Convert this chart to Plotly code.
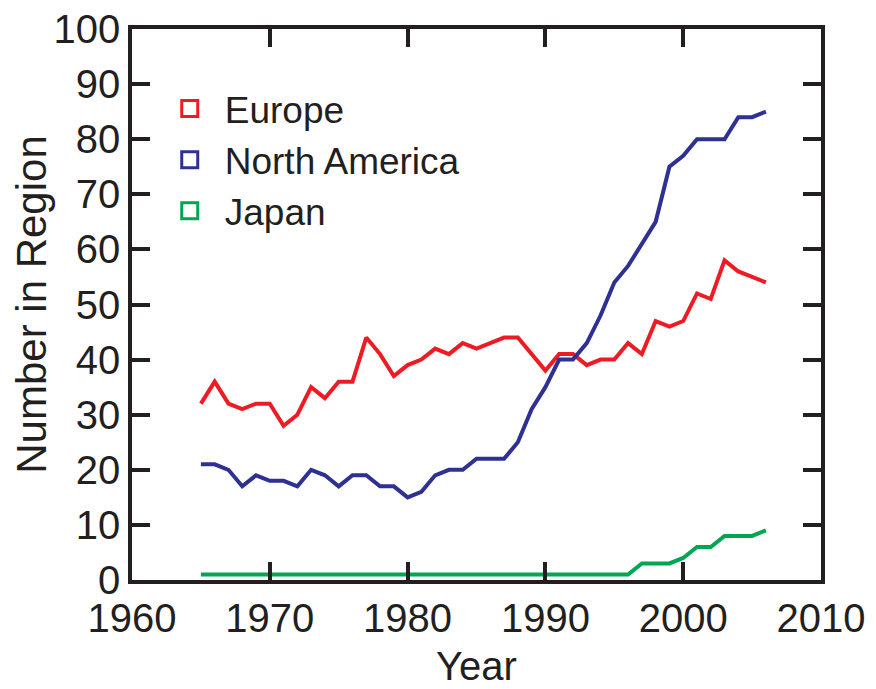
import plotly.graph_objects as go

# years and counts per region
years = list(range(1965, 2007))
europe = [32, 36, 32, 31, 32, 32, 28, 30, 35, 33, 36, 36, 44, 41, 37, 39, 40, 42, 41, 43,
          42, 43, 44, 44, 41, 38, 41, 41, 39, 40, 40, 43, 41, 47, 46, 47, 52, 51, 58, 56, 55, 54]
north_america = [21, 21, 20, 17, 19, 18, 18, 17, 20, 19, 17, 19, 19, 17, 17, 15, 16, 19, 20, 20,
                 22, 22, 22, 25, 31, 35, 40, 40, 43, 48, 54, 57, 61, 65, 75, 77, 80, 80, 80, 84, 84, 85]
japan = [1, 1, 1, 1, 1, 1, 1, 1, 1, 1, 1, 1, 1, 1, 1, 1, 1, 1, 1, 1,
         1, 1, 1, 1, 1, 1, 1, 1, 1, 1, 1, 1, 3, 3, 3, 4, 6, 6, 8, 8, 8, 9]

series = [("Europe", europe, "#ed1c24"),
          ("North America", north_america, "#2e3192"),
          ("Japan", japan, "#00a651")]

INK = "#231f20"
FONT = "Liberation Sans, Arial, sans-serif"
TICKFONT = dict(family=FONT, size=40, color=INK)

fig = go.Figure()
for name, vals, col in series:
    fig.add_trace(go.Scatter(x=years, y=vals, mode="lines", name=name, showlegend=False,
                             line=dict(color=col, width=4)))
# legend entries drawn as open squares
for name, vals, col in series:
    fig.add_trace(go.Scatter(x=[None], y=[None], mode="markers", name=name,
                             marker=dict(symbol="square-open", size=19, color=col,
                                         line=dict(color=col, width=3))))

axis_common = dict(showline=True, linecolor=INK, linewidth=3.5, mirror="ticks",
                   ticks="inside", ticklen=18, tickwidth=3.5, tickcolor=INK,
                   showgrid=False, zeroline=False, tickfont=TICKFONT, automargin=False,
                   ticklabeloverflow="allow")

fig.update_xaxes(range=[1960, 2010], dtick=10, tick0=1960,
                 title=dict(text="Year", font=dict(family=FONT, size=40, color=INK), standoff=14),
                 **axis_common)
fig.update_yaxes(range=[0, 100], dtick=10,
                 title=dict(text="Number in Region", font=dict(family=FONT, size=42, color=INK), standoff=20),
                 **axis_common)

# page body has an 8px margin, so the figure is drawn 8px smaller
fig.update_layout(
    width=868, height=681,
    margin=dict(l=124, r=55, t=21, b=109),
    plot_bgcolor="white", paper_bgcolor="white",
    font=dict(family=FONT, color=INK),
    legend=dict(x=0.033, y=0.911, xanchor="left", yanchor="top", itemwidth=60,
                font=dict(family=FONT, size=37, color=INK),
                bgcolor="rgba(0,0,0,0)", tracegroupgap=0),
)

fig.write_html("out.html")
